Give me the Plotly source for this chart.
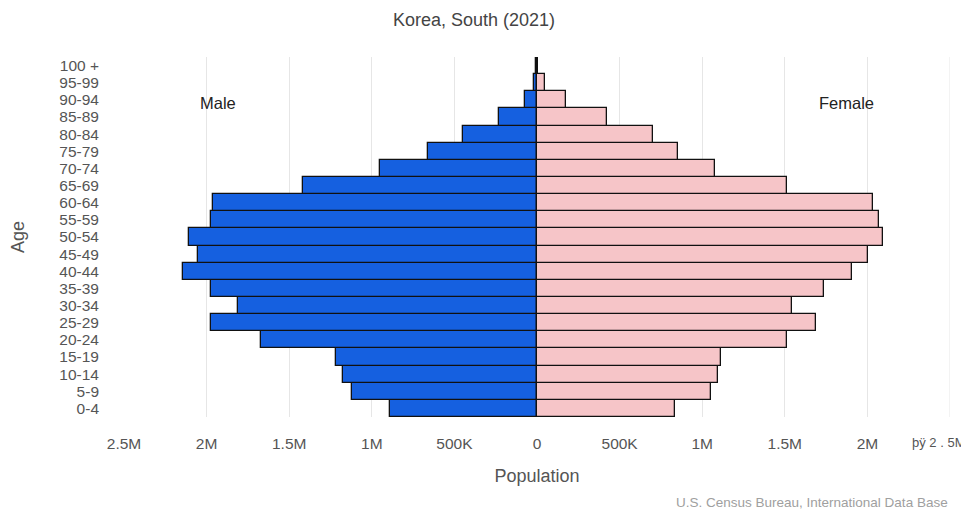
import plotly.graph_objects as go

ages = ["0-4", "5-9", "10-14", "15-19", "20-24", "25-29", "30-34", "35-39", "40-44",
        "45-49", "50-54", "55-59", "60-64", "65-69", "70-74", "75-79", "80-84",
        "85-89", "90-94", "95-99", "100 +"]
male = [892000, 1122000, 1175000, 1217000, 1669000, 1976000, 1807000, 1976000, 2145000,
        2055000, 2108000, 1976000, 1964000, 1416000, 952000, 657000, 447000,
        229000, 72000, 21000, 4000]
female = [837000, 1054000, 1096000, 1114000, 1512000, 1687000, 1542000, 1735000, 1904000,
          2006000, 2092000, 2072000, 2036000, 1512000, 1078000, 856000, 700000,
          422000, 175000, 48000, 8000]
tick_vals = [-2500000, -2000000, -1500000, -1000000, -500000, 0, 500000, 1000000, 1500000, 2000000]
tick_text = ["2.5M", "2M", "1.5M", "1M", "500K", "0", "500K", "1M", "1.5M", "2M"]
edge_label = "þÿ 2 . 5M"

FONT = "Liberation Sans, Arial, sans-serif"
OFF = 8  # page body margin
W, H = 969 - OFF, 510 - OFF
L, T = 124 - OFF, 57 - OFF
R = W - (950 - OFF)
B = H - (417 - OFF)
PW, PH = W - L - R, H - T - B


def px_x(x):
    return (x - OFF - L) / PW


def px_y(y):
    return 1 - (y - OFF - T) / PH


fig = go.Figure()
fig.add_trace(go.Bar(
    y=ages, x=[-v for v in male], orientation="h", name="Male",
    marker=dict(color="#1560e0", line=dict(color="#111111", width=1.3)),
))
fig.add_trace(go.Bar(
    y=ages, x=female, orientation="h", name="Female",
    marker=dict(color="#f6c5c8", line=dict(color="#111111", width=1.3)),
))

fig.update_layout(
    width=W, height=H,
    margin=dict(l=L, r=R, t=T, b=B, autoexpand=False),
    paper_bgcolor="white", plot_bgcolor="white",
    barmode="relative", bargap=0,
    showlegend=False,
    font=dict(family=FONT, color="#555555", size=15),
    xaxis=dict(
        range=[-2500000, 2500000], tickvals=tick_vals, ticktext=tick_text,
        showgrid=True, gridcolor="#e6e6e6", gridwidth=1, zeroline=False,
        showline=False, ticks="", ticklabelstandoff=15, automargin=False,
        tickfont=dict(family=FONT, size=15.5, color="#555555"),
        title=dict(text="Population", standoff=18,
                   font=dict(family=FONT, size=18, color="#555555")),
    ),
    yaxis=dict(
        categoryorder="array", categoryarray=ages,
        tickmode="array", tickvals=ages, ticktext=ages,
        showgrid=False, zeroline=False, showline=False, ticks="",
        ticklabelstandoff=24, automargin=False,
        tickfont=dict(family=FONT, size=15.5, color="#555555"),
        title=dict(text="Age", standoff=30,
                   font=dict(family=FONT, size=18, color="#555555")),
    ),
    shapes=[dict(type="line", xref="x", yref="paper", x0=2500000, x1=2500000, y0=0, y1=1,
                 line=dict(color="#e6e6e6", width=1), layer="below")],
    annotations=[
        dict(text="Korea, South (2021)", x=px_x(474), y=px_y(20), xref="paper", yref="paper",
             showarrow=False, font=dict(family=FONT, size=18, color="#444444"),
             xanchor="center", yanchor="middle"),
        dict(text="Male", x=px_x(218), y=px_y(103), xref="paper", yref="paper", showarrow=False,
             font=dict(family=FONT, size=16.5, color="#222222"), xanchor="center", yanchor="middle"),
        dict(text="Female", x=px_x(846), y=px_y(103), xref="paper", yref="paper", showarrow=False,
             font=dict(family=FONT, size=16.5, color="#222222"), xanchor="center", yanchor="middle"),
        dict(text=edge_label, x=px_x(910), y=px_y(442),
             xref="paper", yref="paper", showarrow=False,
             font=dict(family=FONT, size=13, color="#555555"), xanchor="left", yanchor="middle"),
        dict(text="U.S. Census Bureau, International Data Base", x=px_x(950), y=px_y(502),
             xref="paper", yref="paper", showarrow=False,
             font=dict(family=FONT, size=13.5, color="#a0a0a0"), xanchor="right", yanchor="middle"),
    ],
)

fig.write_html("out.html")
